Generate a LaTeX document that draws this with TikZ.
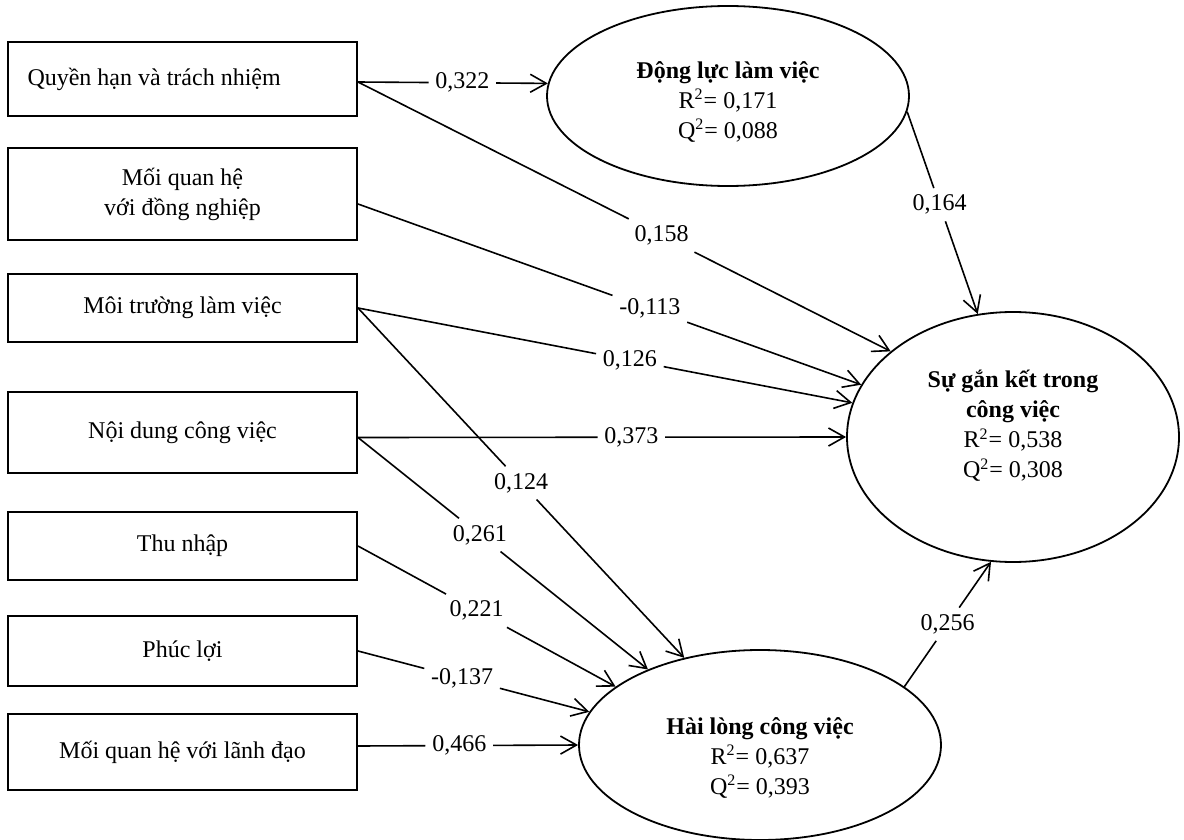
\documentclass[tikz,border=0pt]{standalone}
\usepackage{fontspec}
\setmainfont{Liberation Serif}
\usetikzlibrary{positioning,arrows.meta,shapes.geometric}
\tikzset{
	sem/.style={>={Straight Barb[length=8pt,width=9pt]},x=0.5pt,y=-0.5pt,
		font=\fontsize{12pt}{15pt}\selectfont,line width=0.8pt},
	factor/.style={rectangle,draw,line width=1pt,minimum width=174.5pt,align=center,inner sep=0pt},
	latent/.style={ellipse,draw,line width=0.9pt,align=center,inner sep=0pt},
	coef/.style={inner sep=3pt}
}

\begin{document}
\begin{tikzpicture}[sem]
	\useasboundingbox (0,0) rectangle (1184,840);
	
	\node[factor, minimum height=37pt, text width=155pt, align=flush left] (qh) at (182.5,79) {Quyền hạn và trách nhiệm};
	\node[factor, minimum height=46pt] (dn) [below=15pt of qh] {Mối quan hệ\\với đồng nghiệp};
	\node[factor, minimum height=34pt] (mt) [below=16pt of dn] {Môi trường làm việc};
	\node[factor, minimum height=40.5pt] (nd) [below=24pt of mt] {Nội dung công việc};
	\node[factor, minimum height=34pt] (tn) [below=18.5pt of nd] {Thu nhập};
	\node[factor, minimum height=35pt] (pl) [below=17pt of tn] {Phúc lợi};
	\node[factor, minimum height=38pt] (ld) [below=13pt of pl] {Mối quan hệ với lãnh đạo};
	
	\node[latent, minimum width=181pt, minimum height=90pt, text height=44pt] (dl) at (728,96) {\textbf{Động lực làm việc}\\R\textsuperscript{2}= 0,171\\Q\textsuperscript{2}= 0,088};
	\node[latent, minimum width=166pt, minimum height=125pt, text depth=13pt] (gk) at (1013,437) {\textbf{Sự gắn kết trong}\\\textbf{công việc}\\R\textsuperscript{2}= 0,538\\Q\textsuperscript{2}= 0,308};
	\node[latent, minimum width=181pt, minimum height=95pt, text height=51pt] (hl) at (760,745) {\textbf{Hài lòng công việc}\\R\textsuperscript{2}= 0,637\\Q\textsuperscript{2}= 0,393};
	
	\path ([yshift=-1.5pt]qh.east) -- node[coef,pos=.55] (c322) {0,322} (dl.176);
	\path ([yshift=-1.5pt]qh.east) -- node[coef,pos=.57] (c158) {0,158} (gk.145);
	\path ([yshift=-5pt]dn.east) -- node[coef,pos=.58] (c113) {-0,113} (gk.161);
	\path (mt.east) -- node[coef,pos=.55] (c126) {0,126} (gk.168);
	\path ([yshift=-2.5pt]nd.east) -- node[coef,pos=.56] (c373) {0,373} (gk.180);
	\path (mt.east) -- node[coef,pos=.5] (c124) {0,124} (hl.131);
	\path ([yshift=-2.5pt]nd.east) -- node[coef,pos=.42] (c261) {0,261} (hl.146);
	\path (tn.east) -- node[coef,pos=.46] (c221) {0,221} (hl.158);
	\path (pl.east) -- node[coef,pos=.45] (c137) {-0,137} (hl.169);
	\path ([yshift=3pt]ld.east) -- node[coef,pos=.46] (c466) {0,466} (hl.180);
	\path (dl.355) -- node[coef,pos=.46] (c164) {0,164} (gk.106);
	\path (hl.22) -- node[coef,pos=.5] (c256) {0,256} (gk.260);
	
	\path ([yshift=-1.5pt]qh.east) edge (c322) ([yshift=-1.5pt]qh.east) edge (c158);
	\path ([yshift=-5pt]dn.east) edge (c113);
	\path (mt.east) edge (c126) (mt.east) edge (c124);
	\path ([yshift=-2.5pt]nd.east) edge (c373) ([yshift=-2.5pt]nd.east) edge (c261);
	\path (tn.east) edge (c221);
	\path (pl.east) edge (c137);
	\path ([yshift=3pt]ld.east) edge (c466);
	\path (dl.355) edge (c164);
	\path (hl.22) edge (c256);
	
	\path[->] (c322) edge (dl.176);
	\path[->] (c158) edge (gk.145);
	\path[->] (c113) edge (gk.161);
	\path[->] (c126) edge (gk.168);
	\path[->] (c373) edge (gk.180);
	\path[->] (c124) edge (hl.131);
	\path[->] (c261) edge (hl.146);
	\path[->] (c221) edge (hl.158);
	\path[->] (c137) edge (hl.169);
	\path[->] (c466) edge (hl.180);
	\path[->] (c164) edge (gk.106);
	\path[->] (c256) edge (gk.260);
	
\end{tikzpicture}
\end{document}
